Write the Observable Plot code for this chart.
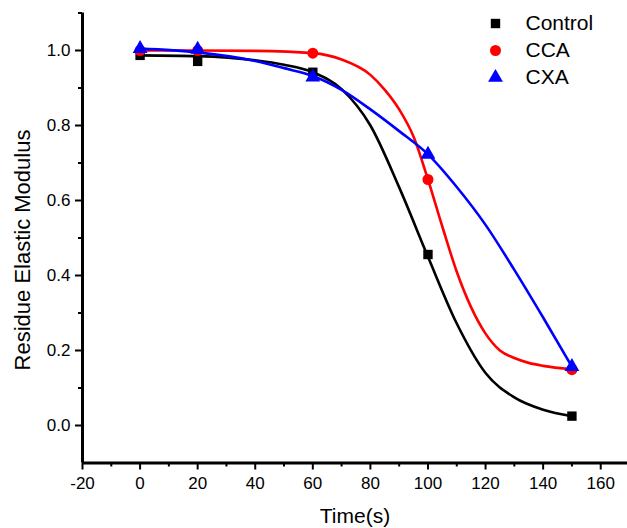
<!DOCTYPE html>
<html>
<head>
<meta charset="utf-8">
<script src="https://cdn.jsdelivr.net/npm/d3@7"></script>
<script src="https://cdn.jsdelivr.net/npm/@observablehq/plot@0.6"></script>
<style>
  html, body { margin: 0; padding: 0; background: #fff; }
  #chart svg { display: block; }
</style>
</head>
<body>
<div id="chart"></div>
<script>
// ---- data ----
const seriesNames = ["Control", "CCA", "CXA"];
const seriesColors = ["#000000", "#ff0000", "#0000ff"];
const seriesSymbols = ["square", "circle", "triangle"];

const times = [0, 20, 60, 100, 150];
const controlValues = [0.987, 0.971, 0.942, 0.456, 0.025];
const ccaValues     = [1.000, 1.000, 0.993, 0.656, 0.149];
const cxaValues     = [1.005, 1.003, 0.929, 0.723, 0.157];

// fitted curves
const controlFitTimes = [0, 20, 40, 50, 60, 70, 80, 90, 100, 110, 120, 130, 140, 150];
const controlFit      = [0.987, 0.985, 0.974, 0.962, 0.942, 0.897, 0.800, 0.635, 0.450, 0.272, 0.140, 0.075, 0.042, 0.025];
const ccaFitTimes     = [0, 20, 40, 60, 70, 80, 85, 90, 95, 100, 105, 110, 115, 120, 125, 130, 135, 140, 150];
const ccaFit          = [1.000, 1.000, 0.999, 0.993, 0.976, 0.935, 0.895, 0.843, 0.770, 0.656, 0.530, 0.410, 0.315, 0.245, 0.200, 0.180, 0.167, 0.159, 0.150];
const cxaFitTimes     = [0, 20, 40, 50, 60, 70, 80, 90, 100, 110, 120, 130, 140, 150];
const cxaFit          = [1.005, 0.995, 0.972, 0.953, 0.932, 0.895, 0.843, 0.785, 0.723, 0.636, 0.535, 0.415, 0.288, 0.157];

const xMajorTicks = [-20, 0, 20, 40, 60, 80, 100, 120, 140, 160];
const xMinorTicks = [-10, 10, 30, 50, 70, 90, 110, 130, 150];
const yMajorTicks = [0.0, 0.2, 0.4, 0.6, 0.8, 1.0];
const yMinorTicks = [0.1, 0.3, 0.5, 0.7, 0.9, 1.1];

const xTitle = "Time(s)";
const yTitle = "Residue Elastic Modulus";

// ---- build tables ----
const pointValues = [controlValues, ccaValues, cxaValues];
const fitTimesList = [controlFitTimes, ccaFitTimes, cxaFitTimes];
const fitValues = [controlFit, ccaFit, cxaFit];

const marks = [];

// ticks and tick labels
marks.push(Plot.axisX({ticks: xMajorTicks, tickSize: 7, tickPadding: 7, stroke: "black", strokeWidth: 2,
  tickFormat: d => String(d), fontSize: 17, label: null}));
marks.push(Plot.axisX({ticks: xMinorTicks, tickSize: 4, stroke: "black", strokeWidth: 2,
  tickFormat: () => "", label: null}));
marks.push(Plot.axisY({ticks: yMajorTicks, tickSize: 7, tickPadding: 5, stroke: "black", strokeWidth: 2,
  tickFormat: d3.format(".1f"), fontSize: 17, label: null}));
marks.push(Plot.axisY({ticks: yMinorTicks, tickSize: 4, stroke: "black", strokeWidth: 2,
  tickFormat: () => "", label: null}));

// axis titles
marks.push(Plot.text([xTitle], {text: d => d, frameAnchor: "bottom", lineAnchor: "middle", textAnchor: "middle", dy: 53, fontSize: 21}));
marks.push(Plot.text([yTitle], {text: d => d, frameAnchor: "left", lineAnchor: "middle", textAnchor: "middle", rotate: -90, dx: -60, dy: 12, fontSize: 22}));

// series: fitted curve + data points
seriesNames.forEach((name, i) => {
  const fit = fitTimesList[i].map((t, j) => ({t, v: fitValues[i][j]}));
  const pts = times.map((t, j) => ({t, v: pointValues[i][j]}));
  marks.push(Plot.line(fit, {x: "t", y: "v", stroke: seriesColors[i], strokeWidth: 2.6, curve: "monotone-x"}));
  marks.push(Plot.dot(pts, {x: "t", y: "v", symbol: seriesSymbols[i], fill: seriesColors[i], stroke: "none",
    r: seriesSymbols[i] === "square" ? 5.3 : 5.5}));
});

// legend
seriesNames.forEach((name, i) => {
  marks.push(Plot.dot([name], {frameAnchor: "top-right", dx: -132, dy: 10.5 + i * 27,
    symbol: seriesSymbols[i], fill: seriesColors[i], stroke: "none", r: seriesSymbols[i] === "square" ? 5.3 : 5.5}));
  marks.push(Plot.text([name], {text: d => d, frameAnchor: "top-right", dx: -102, dy: 10.5 + i * 27,
    textAnchor: "start", lineAnchor: "middle", fontSize: 21}));
});

// axis lines
marks.push(Plot.ruleX([-20], {stroke: "black", strokeWidth: 3}));
marks.push(Plot.ruleY([-0.1], {stroke: "black", strokeWidth: 3}));

const chart = Plot.plot({
  width: 627,
  height: 528,
  marginLeft: 82,
  marginRight: 0,
  marginTop: 12.5,
  marginBottom: 65.5,
  x: {domain: [-20, 170], range: [82, 629]},
  y: {domain: [-0.1, 1.1], range: [462.5, 12.5]},
  style: {fontFamily: "'Liberation Sans', Arial, Helvetica, sans-serif", background: "#fff", color: "#000"},
  marks
});
document.getElementById("chart").appendChild(chart);
</script>
</body>
</html>
